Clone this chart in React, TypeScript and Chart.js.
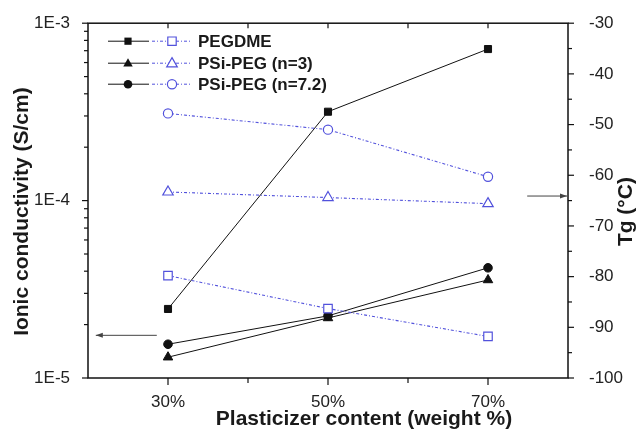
import React, { useEffect, useRef } from 'react';
import { Chart, registerables } from 'chart.js';

Chart.register(...registerables);

// ---- data ----
const categories = [30, 50, 70]; // plasticizer content, weight %
const pegdmeSigma = [2.45e-5, 3.17e-4, 7.15e-4];
const psi3Sigma = [1.31e-5, 2.18e-5, 3.57e-5];
const psi72Sigma = [1.55e-5, 2.24e-5, 4.18e-5];
const pegdmeTg = [-79.8, -86.3, -91.8];
const psi3Tg = [-63.3, -64.4, -65.6];
const psi72Tg = [-47.8, -51.0, -60.3];

const seriesNames = ['PEGDME', 'PSi-PEG (n=3)', 'PSi-PEG (n=7.2)'];
const seriesStyles = ['rect', 'triangle', 'circle'];

const xMajorTicks = [30, 50, 70];
const xMinorTicks = [40, 60];
const sigmaDecades = [1e-5, 1e-4, 1e-3];
const sigmaMinor = [2, 3, 4, 5, 6, 7, 8, 9];
const tgMajorTicks = [-100, -90, -80, -70, -60, -50, -40, -30];
const tgMinorTicks = [-95, -85, -75, -65, -55, -45, -35];

// arrow annotations (data units)
const leftArrow = { y: 1.74e-5, from: 28.6, to: 20.6 };
const rightArrow = { y: -64.1, from: 74.9, to: 80 };

const FONT = "'Liberation Sans', Arial, Helvetica, sans-serif";
const BLACK = '#111';
const BLUE = '#5252dc';
const DASH = [3, 2, 1, 2];

function pts(vals: number[]) {
  return categories.map((c, i) => ({ x: c, y: vals[i] }));
}

function drawMarker(ctx: CanvasRenderingContext2D, style: string, x: number, y: number, filled: boolean, color: string) {
  ctx.save();
  ctx.beginPath();
  if (style === 'rect') {
    const h = filled ? 3.6 : 4.2;
    ctx.rect(x - h, y - h, 2 * h, 2 * h);
  } else if (style === 'triangle') {
    const r = filled ? 5 : 5.6;
    ctx.moveTo(x, y - r);
    ctx.lineTo(x + r * 0.95, y + r * 0.65);
    ctx.lineTo(x - r * 0.95, y + r * 0.65);
    ctx.closePath();
  } else {
    ctx.arc(x, y, filled ? 4.3 : 4.6, 0, Math.PI * 2);
  }
  if (filled) {
    ctx.fillStyle = color;
    ctx.fill();
  } else {
    ctx.fillStyle = '#fff';
    ctx.fill();
    ctx.strokeStyle = color;
    ctx.lineWidth = 1.2;
    ctx.stroke();
  }
  ctx.restore();
}

const decorPlugin = {
  id: 'decor',
  afterDraw(chart: any) {
    const { ctx, chartArea: a, scales } = chart;
    const sx = scales.x, sy = scales.y, sy1 = scales.y1;
    ctx.save();
    // frame
    ctx.strokeStyle = BLACK;
    ctx.lineWidth = 1.5;
    ctx.strokeRect(a.left, a.top, a.right - a.left, a.bottom - a.top);

    ctx.lineWidth = 1.2;
    const line = (x1: number, y1: number, x2: number, y2: number) => {
      ctx.beginPath();
      ctx.moveTo(x1, y1);
      ctx.lineTo(x2, y2);
      ctx.stroke();
    };
    // x ticks
    for (const v of xMajorTicks) {
      const px = sx.getPixelForValue(v);
      line(px, a.bottom, px, a.bottom + 7);
      line(px, a.top, px, a.top + 5);
    }
    for (const v of xMinorTicks) {
      const px = sx.getPixelForValue(v);
      line(px, a.bottom, px, a.bottom + 5);
      line(px, a.top, px, a.top + 5);
    }
    // left log ticks
    for (const d of sigmaDecades) {
      const py = sy.getPixelForValue(d);
      line(a.left - 6, py, a.left, py);
      if (d < 1e-3) {
        for (const m of sigmaMinor) {
          const q = sy.getPixelForValue(d * m);
          line(a.left - 4, q, a.left, q);
        }
      }
    }
    // right ticks
    for (const v of tgMajorTicks) {
      const py = sy1.getPixelForValue(v);
      line(a.right, py, a.right + 6, py);
    }
    for (const v of tgMinorTicks) {
      const py = sy1.getPixelForValue(v);
      line(a.right, py, a.right + 4, py);
    }

    // arrows
    ctx.strokeStyle = '#444';
    ctx.fillStyle = '#444';
    ctx.lineWidth = 1;
    const drawArrow = (x1: number, x2: number, y: number) => {
      line(x1, y, x2, y);
      const dir = x2 > x1 ? 1 : -1;
      ctx.beginPath();
      ctx.moveTo(x2, y);
      ctx.lineTo(x2 - dir * 7, y - 2.5);
      ctx.lineTo(x2 - dir * 7, y + 2.5);
      ctx.closePath();
      ctx.fill();
    };
    drawArrow(sx.getPixelForValue(leftArrow.from), sx.getPixelForValue(leftArrow.to) + 3, sy.getPixelForValue(leftArrow.y));
    drawArrow(sx.getPixelForValue(rightArrow.from), sx.getPixelForValue(rightArrow.to) - 1, sy1.getPixelForValue(rightArrow.y));

    // legend
    ctx.font = `bold 17px ${FONT}`;
    ctx.textBaseline = 'middle';
    ctx.textAlign = 'left';
    const lx = a.left + 20;
    const rowsY = [a.top + 18, a.top + 40, a.top + 61];
    seriesNames.forEach((name, i) => {
      const y = rowsY[i];
      ctx.save();
      ctx.strokeStyle = BLACK;
      ctx.lineWidth = 1;
      line(lx, y, lx + 41, y);
      ctx.strokeStyle = BLUE;
      ctx.setLineDash(DASH);
      line(lx + 44, y, lx + 84, y);
      ctx.restore();
      drawMarker(ctx, seriesStyles[i], lx + 20, y, true, BLACK);
      drawMarker(ctx, seriesStyles[i], lx + 64, y, false, BLUE);
      ctx.fillStyle = '#1a1a1a';
      ctx.fillText(name, lx + 90, y + 1);
    });

    // axis titles
    ctx.fillStyle = '#1a1a1a';
    ctx.font = `bold 21px ${FONT}`;
    ctx.textAlign = 'center';
    ctx.textBaseline = 'middle';
    ctx.fillText('Plasticizer content (weight %)', a.left + 276, a.bottom + 41);
    ctx.save();
    ctx.translate(a.left - 66, (a.top + a.bottom) / 2 + 11);
    ctx.rotate(-Math.PI / 2);
    ctx.fillText('Ionic conductivity (S/cm)', 0, 0);
    ctx.restore();
    ctx.save();
    ctx.translate(a.right + 58, (a.top + a.bottom) / 2 + 11);
    ctx.rotate(-Math.PI / 2);
    ctx.fillText('Tg (°C)', 0, 0);
    ctx.restore();

    ctx.restore();
  },
};

export default function App() {
  const ref = useRef<HTMLCanvasElement>(null);
  useEffect(() => {
    document.body.style.margin = '0';
    const blackDs = (label: string, vals: number[], style: string) => ({
      label,
      data: pts(vals),
      yAxisID: 'y',
      borderColor: BLACK,
      borderWidth: 1,
      backgroundColor: BLACK,
      pointBackgroundColor: BLACK,
      pointBorderColor: BLACK,
      pointBorderWidth: 1,
      pointStyle: style,
      pointRadius: style === 'rect' ? 5 : style === 'triangle' ? 5.5 : 4.3,
      tension: 0,
    });
    const blueDs = (label: string, vals: number[], style: string) => ({
      label,
      data: pts(vals),
      yAxisID: 'y1',
      borderColor: BLUE,
      borderWidth: 1.1,
      borderDash: DASH,
      backgroundColor: '#fff',
      pointBackgroundColor: '#fff',
      pointBorderColor: BLUE,
      pointBorderWidth: 1.2,
      pointStyle: style,
      pointRadius: style === 'rect' ? 6 : style === 'triangle' ? 6 : 4.6,
      tension: 0,
    });
    const tickFont = { family: FONT, size: 17 };
    const chart = new Chart(ref.current!, {
      type: 'line',
      data: {
        datasets: [
          blueDs('PEGDME Tg', pegdmeTg, 'rect'),
          blueDs('PSi-PEG (n=3) Tg', psi3Tg, 'triangle'),
          blueDs('PSi-PEG (n=7.2) Tg', psi72Tg, 'circle'),
          blackDs('PEGDME', pegdmeSigma, 'rect'),
          blackDs('PSi-PEG (n=3)', psi3Sigma, 'triangle'),
          blackDs('PSi-PEG (n=7.2)', psi72Sigma, 'circle'),
        ] as any,
      },
      options: {
        responsive: false,
        devicePixelRatio: 1,
        animation: false,
        layout: { padding: { top: 21, left: 0, right: 0, bottom: 0 } },
        plugins: { legend: { display: false }, tooltip: { enabled: false } },
        scales: {
          x: {
            type: 'linear',
            position: 'bottom',
            min: 20,
            max: 80,
            grid: { display: false },
            border: { display: false },
            afterBuildTicks: (s: any) => {
              s.ticks = xMajorTicks.map((v) => ({ value: v }));
            },
            afterFit: (s: any) => {
              s.height = 60;
            },
            ticks: {
              padding: 6,
              color: '#222',
              font: tickFont,
              autoSkip: false,
              maxRotation: 0,
              callback: (v: any) => `${v}%`,
            },
          },
          y: {
            type: 'logarithmic',
            position: 'left',
            min: 1e-5,
            max: 1e-3,
            grid: { display: false },
            border: { display: false },
            afterBuildTicks: (s: any) => {
              s.ticks = sigmaDecades.map((v) => ({ value: v }));
            },
            afterFit: (s: any) => {
              s.width = 88;
            },
            ticks: {
              padding: 10,
              color: '#222',
              font: tickFont,
              autoSkip: false,
              callback: (v: any) => `1E${Math.round(Math.log10(Number(v)))}`,
            },
          },
          y1: {
            type: 'linear',
            position: 'right',
            min: -100,
            max: -30,
            grid: { display: false },
            border: { display: false },
            afterBuildTicks: (s: any) => {
              s.ticks = tgMajorTicks.map((v) => ({ value: v }));
            },
            afterFit: (s: any) => {
              s.width = 75;
            },
            ticks: {
              padding: 13,
              color: '#222',
              font: tickFont,
              autoSkip: false,
              callback: (v: any) => `${v}`,
            },
          },
        },
      } as any,
      plugins: [decorPlugin],
    });
    return () => chart.destroy();
  }, []);
  return (
    <div style={{ width: 643, height: 438 }}>
      <canvas ref={ref} width={643} height={438} style={{ display: 'block' }} />
    </div>
  );
}
